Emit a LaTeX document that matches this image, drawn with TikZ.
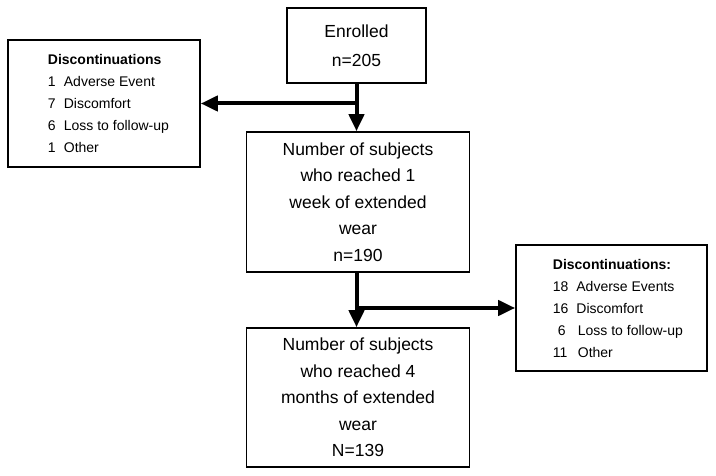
\documentclass[tikz,border=0pt]{standalone}
\usepackage{fontspec}
\setmainfont{Liberation Sans}
\usetikzlibrary{arrows.meta,positioning}
\tikzset{
  stagebox/.style={draw, line width=1.6pt, align=center, inner sep=0pt, font=\fontsize{17.5}{26.5}\selectfont},
  discbox/.style={draw, line width=1.6pt, inner sep=0pt},
  disctext/.style={align=left, inner sep=0pt, anchor=west, font=\fontsize{14}{22}\selectfont},
  flowarrow/.style={line width=4pt, -{Triangle[length=17pt,width=15pt]}}
}
\newcommand{\discitem}[3]{\makebox[#1][l]{#2}#3}

\begin{document}
\begin{tikzpicture}[x=1pt,y=-1pt]
        \useasboundingbox (0,0) rectangle (716,476);

        % stages
        \node[stagebox, minimum width=139pt, minimum height=75pt, font=\fontsize{17.5}{29}\selectfont] (enrolled) at (356.5,45.5) {Enrolled\\n=205};
        \node[stagebox, minimum width=223pt, minimum height=140pt] (week) at (358,202) {Number of subjects\\who reached 1\\week of extended\\wear\\n=190};
        \node[stagebox, minimum width=223pt, minimum height=139pt] (months) at (358,397.5) {Number of subjects\\who reached 4\\months of extended\\wear\\N=139};

        % discontinuations
        \node[discbox, minimum width=192pt, minimum height=127pt] (discA) at (104,103.5) {};
        \node[disctext, right=40.5pt of discA.west] (discAtext) {\textbf{Discontinuations}\\
          \discitem{16pt}{1}{Adverse Event}\\
          \discitem{16pt}{7}{Discomfort}\\
          \discitem{16pt}{6}{Loss to follow-up}\\
          \discitem{16pt}{1}{Other}};

        \node[discbox, minimum width=191pt, minimum height=126pt] (discB) at (611.5,308) {};
        \node[disctext, right=37.5pt of discB.west] (discBtext) {\textbf{Discontinuations:}\\
          \discitem{23.5pt}{18}{Adverse Events}\\
          \discitem{23.5pt}{16}{Discomfort}\\
          \discitem{25pt}{\hspace{5pt}6}{Loss to follow-up}\\
          \discitem{25pt}{11}{Other}};

        % arrows
        \coordinate (splitA) at (enrolled.south |- discA.east);
        \coordinate (splitB) at (week.south -| enrolled.south);
        \coordinate (splitB) at (splitB |- discB.west);
        \draw[flowarrow] (enrolled.south) -- (enrolled.south |- week.north);
        \draw[flowarrow] (splitA) -- (discA.east);
        \draw[flowarrow] (splitB |- week.south) -- (splitB |- months.north);
        \draw[flowarrow] (splitB) -- (discB.west);
    \end{tikzpicture}
\end{document}
